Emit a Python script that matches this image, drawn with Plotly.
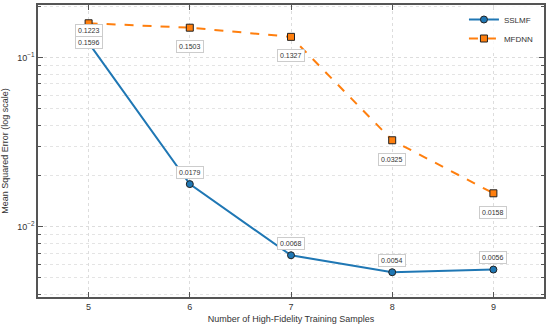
import math
import plotly.graph_objects as go

samples = [5, 6, 7, 8, 9]
sslmf = [0.1223, 0.0179, 0.0068, 0.0054, 0.0056]
mfdnn = [0.1596, 0.1503, 0.1327, 0.0325, 0.0158]
major_vals = [0.01, 0.1]
major_text = ["10<sup>−2</sup>", "10<sup>−1</sup>"]
minor_vals = [m * 10.0 ** e for e in (-3, -2, -1) for m in range(2, 10)]

BLUE = "#1f77b4"
ORANGE = "#ff7f0e"
FONT = "Liberation Sans, Arial, sans-serif"

fig = go.Figure()
fig.add_trace(go.Scatter(
    x=samples, y=sslmf, name="SSLMF", mode="lines+markers",
    line=dict(color=BLUE, width=2),
    marker=dict(symbol="circle", size=7, color=BLUE, line=dict(color="#222", width=1)),
))
fig.add_trace(go.Scatter(
    x=samples, y=mfdnn, name="MFDNN", mode="lines+markers",
    line=dict(color=ORANGE, width=2, dash="dash"),
    marker=dict(symbol="square", size=7, color=ORANGE, line=dict(color="#222", width=1)),
))

for xv, yv in zip(samples, sslmf):
    fig.add_annotation(x=xv, y=math.log10(yv), text=f"{yv:.4f}", showarrow=False,
                       yshift=12, font=dict(size=7, color="#333", family=FONT),
                       bgcolor="white", bordercolor="#cccccc", borderwidth=1, borderpad=2)
for xv, yv in zip(samples, mfdnn):
    fig.add_annotation(x=xv, y=math.log10(yv), text=f"{yv:.4f}", showarrow=False,
                       yshift=-19, font=dict(size=7, color="#333", family=FONT),
                       bgcolor="white", bordercolor="#cccccc", borderwidth=1, borderpad=2)

axis_common = dict(
    showline=True, linecolor="#555", linewidth=1.5, mirror="ticks",
    ticks="inside", ticklen=5, tickcolor="#555", tickwidth=1,
    gridcolor="#dddddd", griddash="dot", gridwidth=1, zeroline=False,
    tickfont=dict(size=9, color="#333", family=FONT), automargin=False,
)

fig.update_layout(
    width=550, height=324,
    margin=dict(l=38, r=6, t=5, b=27),
    paper_bgcolor="white", plot_bgcolor="white",
    font=dict(family=FONT, size=9, color="#333"),
    showlegend=True,
    legend=dict(x=0.99, y=1.0, xanchor="right", yanchor="top",
                bgcolor="rgba(255,255,255,0.8)", borderwidth=0,
                font=dict(size=8, color="#333", family=FONT), itemwidth=30,
                tracegroupgap=0),
    xaxis=dict(range=[4.5, 9.5], tickvals=samples, ticktext=[str(s) for s in samples],
               title=dict(text="Number of High-Fidelity Training Samples",
                          font=dict(size=9, color="#333", family=FONT)),
               **axis_common),
    yaxis=dict(type="log", range=[-2.414, -0.689], tickvals=major_vals, ticktext=major_text,
               title=dict(text="Mean Squared Error (log scale)",
                          font=dict(size=9, color="#333", family=FONT)),
               minor=dict(tickvals=minor_vals, ticks="inside", ticklen=3, tickcolor="#555",
                          showgrid=True, gridcolor="#e4e4e4", griddash="dot", gridwidth=1),
               **axis_common),
)

fig.write_html("out.html", config={"displayModeBar": False},
               post_script="document.body.style.margin='0';document.body.style.overflow='hidden';")
